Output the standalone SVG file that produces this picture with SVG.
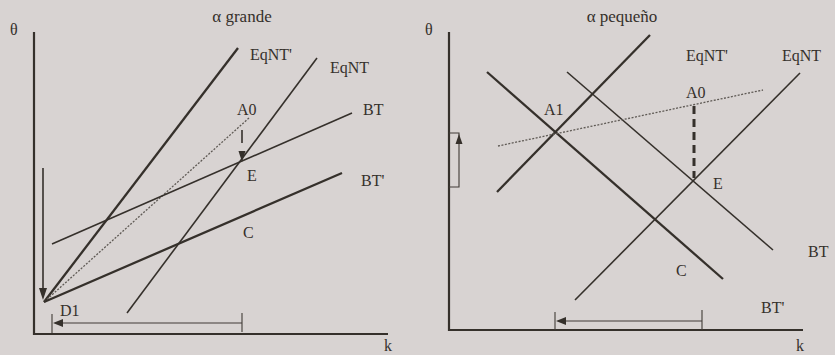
<svg xmlns="http://www.w3.org/2000/svg" width="835" height="355" viewBox="0 0 835 355">
<style>
.bg{fill:#d8d3d2}
.ax{stroke:#35302b;stroke-width:2.2;fill:none}
.thick{stroke:#35302b;stroke-width:2.3;fill:none}
.med{stroke:#35302b;stroke-width:1.6;fill:none}
.thin{stroke:#403b36;stroke-width:1.1;fill:none}
.dot{stroke:#5f5a55;stroke-width:1.3;stroke-dasharray:2 1.5;fill:none}
.dash{stroke:#35302b;stroke-width:3;stroke-dasharray:8 5;fill:none}
.ah{fill:#35302b}
text{font-family:"Liberation Serif","DejaVu Serif",serif;font-size:16px;fill:#35302b}
.t{font-size:17px}
</style>
<rect class="bg" x="0" y="0" width="835" height="355"/>

<g id="left-panel">
  <g id="left-axes">
    <path class="ax" d="M34,32 V334 H388"/>
    <text x="10" y="35">θ</text>
    <text x="384" y="351">k</text>
    <text class="t" x="242" y="22" text-anchor="middle">α grande</text>
  </g>
  <g id="left-connectors">
    <line class="thick" x1="238" y1="48" x2="44" y2="302"/>
    <line class="med" x1="317" y1="58" x2="127" y2="313"/>
    <line class="dot" x1="249" y1="118" x2="44" y2="302"/>
    <line class="med" x1="352" y1="113" x2="52" y2="244"/>
    <line class="thick" x1="342" y1="173" x2="44" y2="302"/>
    <line class="med" x1="242" y1="130" x2="242" y2="143"/>
    <polygon class="ah" points="238.5,151 245.5,151 242,162"/>
    <line class="med" x1="43" y1="168" x2="43" y2="290"/>
    <polygon class="ah" points="39,288 47,288 43,300"/>
    <line class="thin" x1="52" y1="314" x2="52" y2="333"/>
    <line class="thin" x1="242" y1="313" x2="242" y2="332"/>
    <line class="thin" x1="60" y1="323" x2="242" y2="323"/>
    <polygon class="ah" points="53,323 63,319 63,327"/>
  </g>
  <g id="left-labels">
    <text x="250" y="60">EqNT'</text>
    <text x="330" y="73">EqNT</text>
    <text x="237" y="115">A0</text>
    <text x="363" y="115">BT</text>
    <text x="247" y="181">E</text>
    <text x="361" y="186">BT'</text>
    <text x="243" y="238">C</text>
    <text x="60" y="316">D1</text>
  </g>
</g>

<g id="right-panel">
  <g id="right-axes">
    <path class="ax" d="M449,32 V330 H803"/>
    <text x="425" y="35">θ</text>
    <text x="796" y="351">k</text>
    <text class="t" x="622" y="22" text-anchor="middle">α pequeño</text>
  </g>
  <g id="right-connectors">
    <line class="thick" x1="650" y1="35" x2="497" y2="192"/>
    <line class="med" x1="800" y1="73" x2="575" y2="300"/>
    <line class="thick" x1="487" y1="72" x2="723" y2="279"/>
    <line class="med" x1="567" y1="72" x2="773" y2="250"/>
    <line class="dot" x1="498" y1="146" x2="763" y2="90"/>
    <line class="dash" x1="694" y1="106" x2="694" y2="178"/>
    <path class="thin" d="M449,187 H459 V133 H449"/>
    <polygon class="ah" points="455.5,144 462.5,144 459,134"/>
    <line class="thin" x1="555" y1="312" x2="555" y2="330"/>
    <line class="thin" x1="702" y1="310" x2="702" y2="330"/>
    <line class="thin" x1="563" y1="321" x2="702" y2="321"/>
    <polygon class="ah" points="556,321 566,317 566,325"/>
  </g>
  <g id="right-labels">
    <text x="686" y="61">EqNT'</text>
    <text x="782" y="61">EqNT</text>
    <text x="686" y="98">A0</text>
    <text x="544" y="115">A1</text>
    <text x="713" y="189">E</text>
    <text x="808" y="257">BT</text>
    <text x="676" y="276">C</text>
    <text x="761" y="313">BT'</text>
  </g>
</g>
</svg>
